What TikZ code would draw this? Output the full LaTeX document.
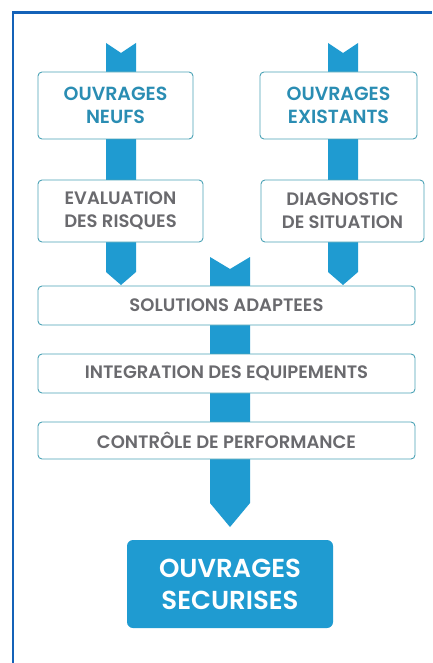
\documentclass[tikz,border=0pt]{standalone}
\usepackage{fontspec}
\setmainfont{Poppins}
\newfontfamily\psemi{Poppins SemiBold}
\definecolor{frameblue}{HTML}{1462B8}
\definecolor{arrowblue}{HTML}{1F9BD1}
\definecolor{boxline}{HTML}{4CA3B6}
\definecolor{tealtext}{HTML}{2A8DB3}
\definecolor{graytext}{HTML}{6A6A6E}
\begin{document}
\begin{tikzpicture}[x=1pt,y=-1pt,
  box/.style={draw=boxline,line width=0.9pt,fill=white,rounded corners=4pt,align=center,inner sep=0pt},
  topbox/.style={box,text=tealtext,font=\psemi\fontsize{19}{23}\selectfont},
  midbox/.style={box,text=graytext,font=\psemi\fontsize{18}{23}\selectfont},
  widebox/.style={box,text=graytext,font=\psemi\fontsize{18}{22}\selectfont,minimum width=377pt},
  finalbox/.style={fill=arrowblue,rounded corners=6pt,align=center,text=white,inner sep=0pt,font=\psemi\fontsize{26}{32}\selectfont},
  band/.style={fill=arrowblue}]
\useasboundingbox (0,0) rectangle (432,663);
\fill[white] (0,0) rectangle (432,663);
% frame
\draw[frameblue,line width=2.2pt] (13,663) -- (13,12.5) -- (432,12.5);
% arrow bands
\fill[band] (106,43) -- (121,53) -- (136,43) -- (136,272) -- (121,285) -- (106,272) -- cycle;
\fill[band] (328,43) -- (343,53) -- (358,43) -- (358,272) -- (343,285) -- (328,272) -- cycle;
\fill[band] (210,257) -- (230,269) -- (250,257) -- (250,503) -- (230,527) -- (210,503) -- cycle;
% boxes
\node[topbox,minimum width=155pt,minimum height=67pt] (n1) at (115.5,105.5) {OUVRAGES\\NEUFS};
\node[topbox,minimum width=157pt,minimum height=67pt] (n2) at (338.5,105.5) {OUVRAGES\\EXISTANTS};
\node[midbox,minimum width=165pt,minimum height=62pt] (e1) at (120.5,211) {EVALUATION\\DES RISQUES};
\node[midbox,minimum width=163pt,minimum height=62pt] (e2) at (342.5,211) {DIAGNOSTIC\\DE SITUATION};
\node[widebox,minimum height=39pt] (s1) at (226.5,305.5) {SOLUTIONS ADAPTEES};
\node[widebox,minimum height=39pt] (s2) at (226.5,373.5) {INTEGRATION DES EQUIPEMENTS};
\node[widebox,minimum height=37pt] (s3) at (226.5,440.5) {CONTRÔLE DE PERFORMANCE};
\node[finalbox,minimum width=206pt,minimum height=88pt] (f) at (230,584) {OUVRAGES\\SECURISES};
\end{tikzpicture}
\end{document}
